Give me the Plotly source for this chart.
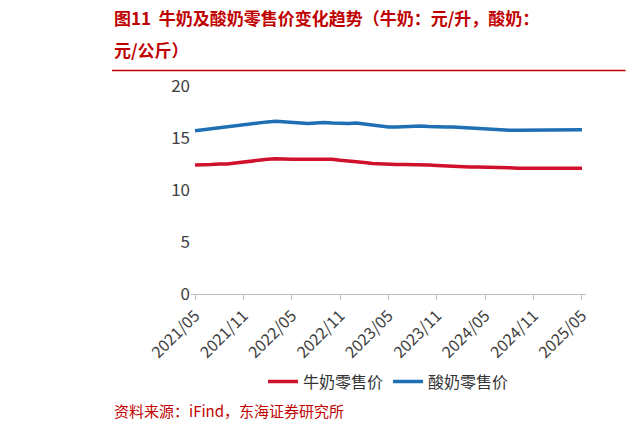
import plotly.graph_objects as go
import pandas as pd

months = pd.date_range("2021-05-01", "2025-05-01", freq="MS").strftime("%Y/%m").tolist()

milk = [12.4, 12.4, 12.45, 12.5, 12.5, 12.6, 12.7, 12.75, 12.85, 12.95, 13.0, 12.95,
        12.95, 12.95, 12.95, 13.0, 13.0, 12.95, 12.85, 12.8, 12.75, 12.65, 12.55, 12.5,
        12.45, 12.45, 12.45, 12.45, 12.4, 12.4, 12.35, 12.3, 12.3, 12.25, 12.2, 12.2,
        12.2, 12.15, 12.15, 12.15, 12.1, 12.1, 12.1, 12.15, 12.15, 12.15, 12.1, 12.1, 12.1]
yogurt = [15.7, 15.8, 15.9, 16.0, 16.1, 16.2, 16.3, 16.4, 16.5, 16.55, 16.6, 16.55,
          16.45, 16.45, 16.4, 16.45, 16.5, 16.45, 16.4, 16.4, 16.45, 16.35, 16.2, 16.1,
          16.05, 16.05, 16.1, 16.15, 16.15, 16.1, 16.05, 16.05, 16.05, 16.0, 15.95, 15.9,
          15.85, 15.8, 15.75, 15.75, 15.75, 15.75, 15.75, 15.75, 15.75, 15.8, 15.8, 15.8, 15.8]

tick_labels = months[::6]

fig = go.Figure()
fig.add_trace(go.Scatter(x=months, y=milk, name="牛奶零售价", mode="lines",
                         line=dict(color="#d0112b", width=3.5)))
fig.add_trace(go.Scatter(x=months, y=yogurt, name="酸奶零售价", mode="lines",
                         line=dict(color="#1f6fb5", width=3.5)))

fig.update_layout(
    width=634, height=429,
    margin=dict(l=183, r=56, t=78, b=143),
    paper_bgcolor="white", plot_bgcolor="white",
    font=dict(family="Noto Sans CJK SC", size=16, color="#404040"),
    showlegend=True,
    legend=dict(orientation="h", x=0.5, xanchor="center", y=-0.34, yanchor="top",
                font=dict(size=16, color="#333333")),
    xaxis=dict(type="category", tickmode="array", tickvals=tick_labels, ticktext=tick_labels,
               tickangle=-45, showgrid=False, showline=True, linecolor="#bfbfbf",
               ticks="outside", tickcolor="#bfbfbf", range=[-0.5, 48.5]),
    yaxis=dict(range=[0, 20], dtick=5, showgrid=False, showline=False, zeroline=False,
               ticks="", tickfont=dict(size=17)),
)

fig.add_annotation(xref="paper", yref="paper", x=-0.2, xanchor="left", y=1.0, yanchor="bottom",
                   yshift=54, showarrow=False, align="left",
                   text="<b>图11  牛奶及酸奶零售价变化趋势（牛奶：元/升，酸奶：</b>",
                   font=dict(size=17, color="#c00000"))
fig.add_annotation(xref="paper", yref="paper", x=-0.2, xanchor="left", y=1.0, yanchor="bottom",
                   yshift=22, showarrow=False, align="left",
                   text="<b>元/公斤）</b>", font=dict(size=17, color="#c00000"))
fig.add_shape(type="line", xref="paper", yref="paper", x0=-0.2, x1=1.1, y0=1.075, y1=1.075,
              line=dict(color="#c00000", width=1.5))
fig.add_annotation(xref="paper", yref="paper", x=-0.2, xanchor="left", y=-0.5, yanchor="top",
                   showarrow=False, text="资料来源：iFind，东海证券研究所",
                   font=dict(size=15, color="#c00000"))

fig.write_html("out.html")
